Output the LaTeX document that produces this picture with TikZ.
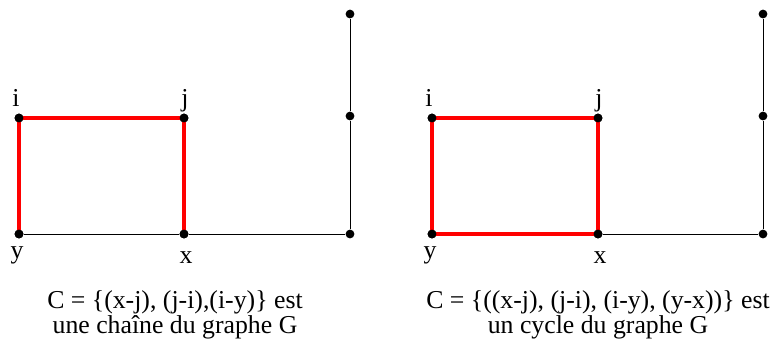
\documentclass[tikz,border=0pt]{standalone}
\usepackage{fontspec}
\setmainfont{Liberation Serif}
\begin{document}
\begin{tikzpicture}[x=0.03cm, y=-0.03cm, every node/.style={font=\fontsize{22}{21}\selectfont}, dot/.style={circle, fill=black, inner sep=0pt, minimum size=7.5pt}, etiq/.style={anchor=base, inner sep=0pt}, arete/.style={line width=0.8pt}, chemin/.style={red, line width=3.4pt}]
                    \useasboundingbox (0,0) rectangle (779,350);
                    % graphe de gauche
                    \node[dot] (i1) at (19,118) {};
                    \node[dot] (j1) at (184,118) {};
                    \node[dot] (y1) at (19,234) {};
                    \node[dot] (x1) at (184,234) {};
                    \node[dot] (a1) at (350,234) {};
                    \node[dot] (b1) at (350,116) {};
                    \node[dot] (c1) at (350,14) {};
                    \node[etiq] (li1) at (16,106) {i};
                    \node[etiq] (lj1) at (185,106) {j};
                    \node[etiq] (ly1) at (17,258) {y};
                    \node[etiq] (lx1) at (186,263) {x};
                    \draw[arete] (y1) -- (x1) -- (a1) -- (b1) -- (c1);
                    \draw[chemin] (y1.center) -- (i1.center) -- (j1.center) -- (x1.center);
                    \node[align=center] (t1) at (175,315) {C = \{(x-j), (j-i),(i-y)\} est\\ une chaîne du graphe G};
                    % graphe de droite
                    \node[dot] (i2) at (432,118) {};
                    \node[dot] (j2) at (598,118) {};
                    \node[dot] (y2) at (432,234) {};
                    \node[dot] (x2) at (598,234) {};
                    \node[dot] (a2) at (763,234) {};
                    \node[dot] (b2) at (763,116) {};
                    \node[dot] (c2) at (763,14) {};
                    \node[etiq] (li2) at (429,106) {i};
                    \node[etiq] (lj2) at (599,106) {j};
                    \node[etiq] (ly2) at (430,258) {y};
                    \node[etiq] (lx2) at (600,263) {x};
                    \draw[arete] (x2) -- (a2) -- (b2) -- (c2);
                    \draw[chemin] (y2.center) -- (i2.center) -- (j2.center) -- (x2.center) -- cycle;
                    \node[align=center] (t2) at (598,315) {C = \{((x-j), (j-i), (i-y), (y-x))\} est\\ un cycle du graphe G};
                    \foreach \n in {i1,j1,y1,x1,i2,j2,y2,x2} \node[dot] at (\n) {};
                \end{tikzpicture}
\end{document}
